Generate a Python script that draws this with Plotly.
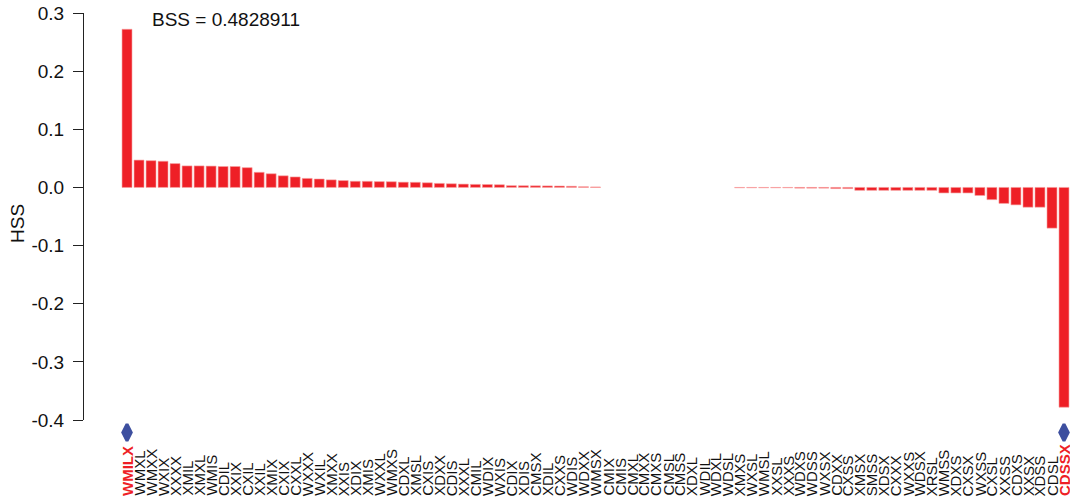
import plotly.graph_objects as go

categories = ["WMILX","WMXL","WMXX","WXIX","XXXX","XMIL","XMXL","WMIS","CDIL","XXIX",
              "CXIL","XXIL","XMIX","CXIX","CXXL","WXXX","WXIL","XMXX","XXIS","XDIX",
              "XMIS","WXXL","WMXS","CDXL","XMSL","CXIS","XDXX","CDIS","XXXL","CMIL",
              "WDIX","WXIS","CDIX","XDIS","CMSX","XDIL","CXXS","WDIS","WDXX","WMSX",
              "CMIX","CMIS","CMXL","CMXX","CMXS","CMSL","CMSS","XDXL","WDIL","WDXL",
              "WDSL","XMXS","WXSL","WMSL","XXSL","XXXS","WDXS","WDSS","WXSX","CDXX",
              "CXSS","XMSX","SMSS","XDSX","CXXX","WXXS","WDSX","XRSL","WMSS","XDXS",
              "CXSX","WXSS","CXSL","XXSS","CDXS","XXSX","XDSS","CDSL","CDSSX"]

hss = [0.272, 0.047, 0.046, 0.045, 0.041, 0.037, 0.037, 0.0367, 0.036, 0.036,
       0.034, 0.026, 0.0235, 0.020, 0.018, 0.0155, 0.0145, 0.013, 0.0118, 0.0106,
       0.0105, 0.0100, 0.0098, 0.0090, 0.0088, 0.0080, 0.0069, 0.0063, 0.0057, 0.0052,
       0.0050, 0.0046, 0.0030, 0.0029, 0.0028, 0.0026, 0.0024, 0.0020, 0.0012, 0.0008,
       0.0, 0.0, 0.0, 0.0, 0.0, 0.0, 0.0, 0.0, 0.0, 0.0,
       0.0, -0.0006, -0.0006, -0.0006, -0.0006, -0.0006, -0.0012, -0.0012, -0.0012, -0.002,
       -0.002, -0.005, -0.005, -0.005, -0.005, -0.005, -0.005, -0.005, -0.0095, -0.0095,
       -0.0095, -0.0138, -0.021, -0.0275, -0.030, -0.034, -0.034, -0.070, -0.378]

highlight = ["WMILX", "CDSSX"]
marker_level = -0.4215
bss_text = "BSS = 0.4828911"
y_ticks = [0.3, 0.2, 0.1, 0.0, -0.1, -0.2, -0.3, -0.4]
y_ticklabels = ["0.3", "0.2", "0.1", "0.0", "-0.1", "-0.2", "-0.3", "-0.4"]
y_min, y_max = -0.4, 0.3

W, H = 1070, 498
top = 13            # pixel of y_max
axis_bottom = 420   # pixel of y_min
area_bottom = 446   # bottom of plotting area (room for the diamonds)
x_left = 121
axis_x = 83
FONT = "Liberation Sans, Arial"

px_per_unit = (axis_bottom - top) / (y_max - y_min)
area_h = area_bottom - top
d = (area_bottom - axis_bottom) / area_h
y2_min = y_max - area_h / px_per_unit

fig = go.Figure()
fig.add_trace(go.Bar(
    x=categories, y=hss,
    marker=dict(color="#EE1F26",
                line=dict(color="#F6A0A0", width=[0 if v == 0 else 0.6 for v in hss])),
    width=0.83, showlegend=False, hoverinfo="x+y", yaxis="y",
))
fig.add_trace(go.Scatter(
    x=highlight, y=[marker_level] * len(highlight), mode="markers", yaxis="y2",
    marker=dict(symbol="diamond-tall", size=12, color="#3D4F9F",
                line=dict(color="#3D4F9F", width=3)),
    showlegend=False,
))

annotations = []
label_y = -(H - 1 - area_bottom) / area_h
for c in categories:
    hl = c in highlight
    annotations.append(dict(
        x=c, xref="x", y=label_y, yref="paper", text=("<b>%s</b>" % c) if hl else c,
        textangle=-90, showarrow=False, xanchor="center", yanchor="bottom",
        font=dict(family=FONT, size=15, color="#EE1F26" if hl else "#111111"),
        borderpad=0,
    ))
annotations.append(dict(
    x=150 / W, xref="paper", y=(area_bottom - 20) / area_h, yref="paper",
    text=bss_text, showarrow=False, xanchor="left", yanchor="middle",
    font=dict(family=FONT, size=19, color="#111111"),
))
annotations.append(dict(
    x=17 / W, xref="paper", y=(area_bottom - 224) / area_h, yref="paper",
    text="HSS", textangle=-90, showarrow=False, xanchor="center", yanchor="middle",
    font=dict(family=FONT, size=19, color="#111111"),
))

fig.update_layout(
    width=W, height=H,
    margin=dict(l=0, r=0, t=top, b=H - area_bottom),
    paper_bgcolor="white", plot_bgcolor="rgba(0,0,0,0)",
    annotations=annotations,
    xaxis=dict(domain=[x_left / W, 1], range=[-0.5, len(categories) - 0.5],
               showticklabels=False, showline=False, showgrid=False, zeroline=False,
               ticks="", anchor="y"),
    yaxis=dict(domain=[d, 1], range=[y_min, y_max], anchor="free", position=axis_x / W,
               tickvals=y_ticks, ticktext=y_ticklabels, ticks="outside", ticklen=10,
               tickcolor="#222222", showline=True, linecolor="#222222", linewidth=1,
               ticklabelstandoff=5, ticklabeloverflow="allow",
               showgrid=False, zeroline=False, automargin=False,
               tickfont=dict(family=FONT, size=19, color="#111111")),
    yaxis2=dict(domain=[0, 1], range=[y2_min, y_max], anchor="x", visible=False,
                showgrid=False, zeroline=False),
)

fig.write_html("out.html", config={"displayModeBar": False},
               post_script="document.body.style.margin='0';")
